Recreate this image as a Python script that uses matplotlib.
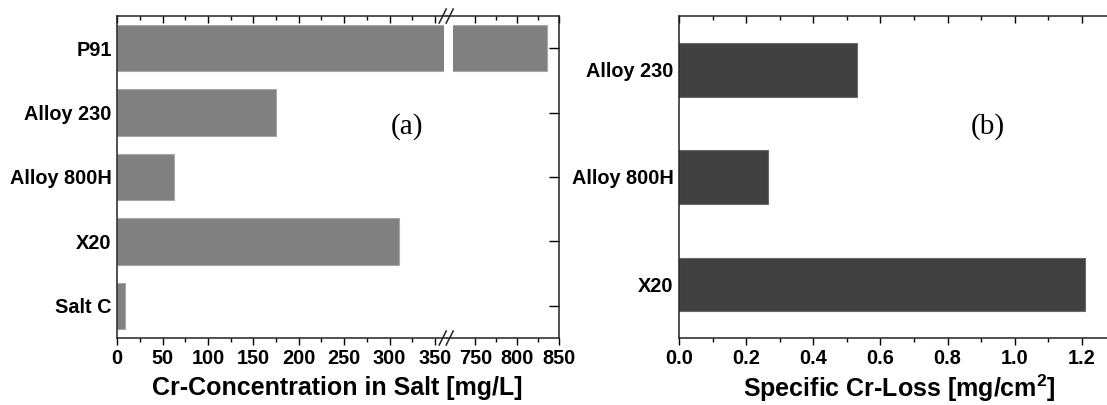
"""Cr concentration in salt and specific Cr loss, two panels.
"""

import matplotlib
matplotlib.use("Agg")
import matplotlib.pyplot as plt
import numpy as np

# panel (a)
samples_a = ["Salt C", "X20", "Alloy 800H", "Alloy 230", "P91"]
cr_conc = [8.5, 310, 63, 175, 835]  # mg/L

# panel (b)
samples_b = ["X20", "Alloy 800H", "Alloy 230"]
cr_loss = [1.211, 0.264, 0.53]  # mg/cm^2

W, H = 1107, 405
SANS = "Liberation Sans"
SERIF = "Liberation Serif"

plt.rcParams["mathtext.fontset"] = "custom"
plt.rcParams["mathtext.rm"] = "Liberation Sans:bold"
plt.rcParams["mathtext.bf"] = "Liberation Sans:bold"


def fx(px):
    return px / W


def fy(py):
    return 1 - py / H


def style_axis(ax):
    for s in ax.spines.values():
        s.set_linewidth(1.1)
        s.set_color("#222222")
    for lab in ax.get_xticklabels() + ax.get_yticklabels():
        lab.set_fontfamily(SANS)
        lab.set_fontweight("bold")
        lab.set_fontsize(14.3)


def main():
    fig = plt.figure(figsize=(W / 100, H / 100), dpi=100)

    top, bot = 16, 338
    brk = 446.7
    ax1 = fig.add_axes([fx(117.3), fy(bot), fx(brk - 117.3), (bot - top) / H])
    ax2 = fig.add_axes([fx(brk), fy(bot), fx(559.3 - brk), (bot - top) / H])
    ax3 = fig.add_axes([fx(679.3), fy(bot), fx(1.3 * 335.3), (bot - top) / H])

    y = np.arange(len(samples_a))
    for ax in (ax1, ax2):
        ax.barh(y, cr_conc, height=0.72, color="#808080",
                edgecolor="#a8a8a8", linewidth=0.8, zorder=1)
        ax.set_ylim(-0.5, 4.5)
        ax.tick_params(axis="x", which="both", bottom=True, top=True,
                       direction="out", pad=3)
        ax.tick_params(axis="x", which="major", length=5, width=1.0)
        ax.tick_params(axis="x", which="minor", length=3, width=1.0)

    ax1.set_xlim(0, 363)
    ax2.set_xlim(716, 850)
    ax1.set_xticks(np.arange(0, 351, 50))
    ax1.set_xticks(np.arange(25, 351, 50), minor=True)
    ax2.set_xticks([750, 800, 850])
    ax2.set_xticks([775, 825], minor=True)

    # white gap across the broken bar
    ax1.axvspan(360, 363, color="white", zorder=1.5, lw=0)
    ax2.axvspan(716, 723, color="white", zorder=1.5, lw=0)

    ax1.spines["right"].set_visible(False)
    ax2.spines["left"].set_visible(False)

    ax1.set_yticks(y)
    ax1.set_yticklabels(samples_a)
    ax1.tick_params(axis="y", length=0, pad=4)
    ax2.set_yticks(y)
    ax2.set_yticklabels([])
    ax2.tick_params(axis="y", left=False, right=True, direction="in",
                    length=7, width=1.0)

    for ax in (ax1, ax2):
        style_axis(ax)

    # top ticks point inside
    for ax in (ax1, ax2):
        for t in ax.xaxis.get_major_ticks() + ax.xaxis.get_minor_ticks():
            t.tick2line.set_marker(matplotlib.lines.TICKDOWN)

    # break marks
    for yy in (fy(top), fy(bot)):
        for dx in (-4, 3):
            x0 = fx(brk + dx - 3.5)
            x1 = fx(brk + dx + 3.5)
            fig.add_artist(plt.Line2D([x0, x1], [yy - 7 / H, yy + 7 / H],
                                      color="#222222", lw=1.1))

    fig.text(fx(337.5), fy(388), "Cr-Concentration in Salt [mg/L]",
             ha="center", va="center", fontfamily=SANS, fontweight="bold",
             fontsize=18)
    fig.text(fx(407), fy(127), "(a)", ha="center", va="center",
             fontfamily=SERIF, fontsize=21)

    # panel (b)
    yb = np.arange(len(samples_b))
    ax3.barh(yb, cr_loss, height=0.5, color="#404040",
             edgecolor="#6a6a6a", linewidth=0.8)
    ax3.set_ylim(-0.5, 2.5)
    ax3.set_xlim(0, 1.3)
    ax3.set_xticks(np.arange(0, 1.21, 0.2))
    ax3.set_xticks(np.arange(0.1, 1.3, 0.2), minor=True)
    ax3.set_yticks(yb)
    ax3.set_yticklabels(samples_b)
    ax3.tick_params(axis="y", length=0, pad=4)
    ax3.tick_params(axis="x", which="both", bottom=True, top=True,
                    direction="out", pad=3)
    ax3.tick_params(axis="x", which="major", length=5, width=1.0)
    ax3.tick_params(axis="x", which="minor", length=3, width=1.0)
    ax3.xaxis.set_major_formatter(matplotlib.ticker.FormatStrFormatter("%.1f"))
    style_axis(ax3)
    for t in ax3.xaxis.get_major_ticks() + ax3.xaxis.get_minor_ticks():
        t.tick2line.set_marker(matplotlib.lines.TICKDOWN)
    fig.text(fx(899), fy(388), r"Specific Cr-Loss [mg/cm$^{2}$]",
             ha="center", va="center", fontfamily=SANS, fontweight="bold",
             fontsize=18)
    fig.text(fx(988), fy(127), "(b)", ha="center", va="center",
             fontfamily=SERIF, fontsize=21)

    fig.savefig("out.png", dpi=100)


if __name__ == "__main__":
    main()
